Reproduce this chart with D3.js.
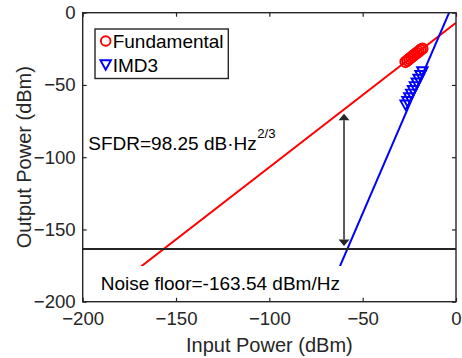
<!DOCTYPE html>
<html>
<head>
<meta charset="utf-8">
<script src="https://cdn.jsdelivr.net/npm/d3@7"></script>
<style>
  html, body { margin: 0; padding: 0; background: #fff; }
  svg { display: block; font-family: "Liberation Sans", Arial, sans-serif; }
</style>
</head>
<body>
<svg id="chart" width="462" height="358"></svg>
<script>
// ---- data ----
const inputPower   = [-27, -26, -25, -24, -23, -22, -21, -20, -19, -18];
const fundamental  = [-34.1, -33.0, -31.9, -30.9, -29.8, -28.9, -27.8, -26.9, -25.8, -24.9];
const imd3         = [-64.0, -61.6, -59.0, -56.5, -54.0, -51.3, -48.8, -46.2, -43.6, -41.0];
const fundFitIn    = [-200, 0];
const fundFitOut   = [-206.9, -6.9];
const imd3FitIn    = [-75, 0];
const imd3FitOut   = [-213.9, 11.1];
const noiseFloor   = -163.54;
const arrowX       = -60;
const arrowRange   = [-70, -161.5];
const xTicks       = [-200, -150, -100, -50, 0];
const yTicks       = [0, -50, -100, -150, -200];
const seriesNames  = ["Fundamental", "IMD3"];
const sfdrLabel    = "SFDR=98.25 dB\u00B7Hz";
const sfdrSup      = "2/3";
const noiseLabel   = "Noise floor=-163.54 dBm/Hz";
const xLabel       = "Input Power (dBm)";
const yLabel       = "Output Power (dBm)";

// ---- layout ----
const L = 82.7, R = 456, T = 12.7, B = 301.7;
const axisColor = "#262626";
const red = "#ff0000", blue = "#0000ff";

const svg = d3.select("#chart");
const x = d3.scaleLinear().domain([-200, 0]).range([L, R]);
const y = d3.scaleLinear().domain([0, -200]).range([T, B]);

svg.append("defs").append("clipPath").attr("id", "clip")
  .append("rect").attr("x", L).attr("y", T).attr("width", R - L).attr("height", B - T);

const plot = svg.append("g").attr("clip-path", "url(#clip)");

const line = d3.line().x(d => x(d[0])).y(d => y(d[1]));

// fit lines
plot.append("path")
  .attr("d", line(fundFitIn.map((v, i) => [v, fundFitOut[i]])))
  .attr("stroke", red).attr("stroke-width", 2).attr("fill", "none");
plot.append("path")
  .attr("d", line(imd3FitIn.map((v, i) => [v, imd3FitOut[i]])))
  .attr("stroke", blue).attr("stroke-width", 2).attr("fill", "none");

// noise floor line
plot.append("path")
  .attr("d", line([[-200, noiseFloor], [0, noiseFloor]]))
  .attr("stroke", axisColor).attr("stroke-width", 1.8).attr("fill", "none");

// markers
const triPath = (cx, cy, s) => {
  const h = s * 0.9;
  return `M${cx - s / 2},${cy - h / 2}L${cx + s / 2},${cy - h / 2}L${cx},${cy + h / 2}Z`;
};
plot.selectAll("circle.fund").data(inputPower).enter().append("circle")
  .attr("class", "fund")
  .attr("cx", d => x(d)).attr("cy", (d, i) => y(fundamental[i]))
  .attr("r", 5.2).attr("fill", "none").attr("stroke", red).attr("stroke-width", 2);
plot.selectAll("path.imd").data(inputPower).enter().append("path")
  .attr("class", "imd")
  .attr("d", (d, i) => triPath(x(d), y(imd3[i]), 10.5))
  .attr("fill", "none").attr("stroke", blue).attr("stroke-width", 1.9);

// arrow
const ax = x(arrowX), ay1 = y(arrowRange[0]), ay2 = y(arrowRange[1]);
const hl = 6.5, hw = 5.5;
svg.append("line").attr("x1", ax).attr("x2", ax).attr("y1", ay1 + hl).attr("y2", ay2 - hl)
  .attr("stroke", axisColor).attr("stroke-width", 1.5);
svg.append("path").attr("d", `M${ax},${ay1}L${ax - hw},${ay1 + hl}L${ax + hw},${ay1 + hl}Z`).attr("fill", axisColor);
svg.append("path").attr("d", `M${ax},${ay2}L${ax - hw},${ay2 - hl}L${ax + hw},${ay2 - hl}Z`).attr("fill", axisColor);

// noise text with white background
const nt = svg.append("text").attr("x", 100.7).attr("y", 290)
  .attr("font-size", 19).attr("fill", "#000").text(noiseLabel);
const bb = nt.node().getBBox();
svg.insert("rect", "text")
  .attr("x", bb.x - 8).attr("y", bb.y - 7).attr("width", bb.width + 16).attr("height", bb.height + 14.5)
  .attr("fill", "#fff");

// SFDR text
const st = svg.append("text").attr("x", 88.3).attr("y", 150).attr("font-size", 19).attr("fill", "#000");
st.append("tspan").text(sfdrLabel);
st.append("tspan").attr("dy", -12.5).attr("font-size", 13.2).attr("dx", 0.5).text(sfdrSup);

// axes
const xAxisB = d3.axisBottom(x).tickValues(xTicks).tickSize(-4).tickPadding(10).tickFormat(d3.format("d"));
const xAxisT = d3.axisTop(x).tickValues(xTicks).tickSize(-4).tickFormat("");
const yAxisL = d3.axisLeft(y).tickValues(yTicks).tickSize(-4).tickPadding(7).tickFormat(d3.format("d"));
const yAxisR = d3.axisRight(y).tickValues(yTicks).tickSize(-4).tickFormat("");

function styleAxis(g) {
  g.select(".domain").remove();
  g.selectAll(".tick line").attr("stroke", axisColor).attr("stroke-width", 1.2);
  g.selectAll(".tick text").attr("fill", axisColor).attr("font-size", 18.6)
    .attr("font-family", "Liberation Sans, Arial, sans-serif");
}
svg.append("g").attr("transform", `translate(0,${B})`).call(xAxisB).call(styleAxis);
svg.append("g").attr("transform", `translate(0,${T})`).call(xAxisT).call(styleAxis);
svg.append("g").attr("transform", `translate(${L},0)`).call(yAxisL).call(styleAxis);
svg.append("g").attr("transform", `translate(${R},0)`).call(yAxisR).call(styleAxis);

svg.append("rect").attr("x", L).attr("y", T).attr("width", R - L).attr("height", B - T)
  .attr("fill", "none").attr("stroke", axisColor).attr("stroke-width", 1.4);

// axis labels
svg.append("text").attr("x", (L + R) / 2).attr("y", 352.3).attr("text-anchor", "middle")
  .attr("font-size", 20).attr("fill", axisColor).text(xLabel);
svg.append("text").attr("transform", `translate(31,${(T + B) / 2}) rotate(-90)`).attr("text-anchor", "middle")
  .attr("font-size", 20).attr("fill", axisColor).text(yLabel);

// legend
const lg = svg.append("g");
lg.append("rect").attr("x", 95).attr("y", 29).attr("width", 133.3).attr("height", 49.5)
  .attr("fill", "#fff").attr("stroke", axisColor).attr("stroke-width", 1.4);
lg.append("circle").attr("cx", 105.7).attr("cy", 41).attr("r", 4.8)
  .attr("fill", "none").attr("stroke", red).attr("stroke-width", 1.9);
lg.append("path").attr("d", triPath(105.7, 65, 10.5))
  .attr("fill", "none").attr("stroke", blue).attr("stroke-width", 1.9);
lg.selectAll("text.lg").data(seriesNames).enter().append("text")
  .attr("class", "lg").attr("x", 112.7).attr("y", (d, i) => 48 + i * 24)
  .attr("font-size", 19).attr("fill", "#000").text(d => d);
</script>
</body>
</html>
